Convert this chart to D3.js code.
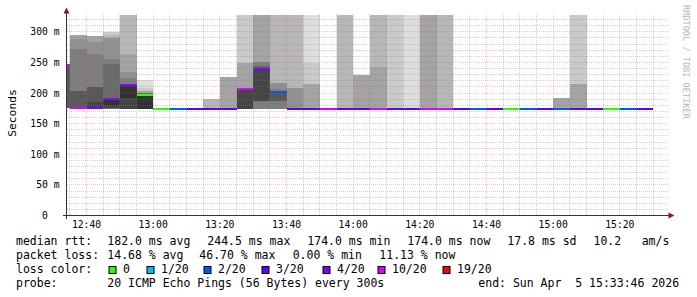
<!DOCTYPE html>
<html>
<head>
<meta charset="utf-8">
<script src="https://cdn.jsdelivr.net/npm/d3@7"></script>
<style>
  body { margin: 0; background: #fff; }
  svg { display: block; }
  text { font-family: "DejaVu Sans Mono", monospace; white-space: pre; }
</style>
</head>
<body>
<svg id="chart" width="697" height="297"></svg>
<script>
// 5 minute bins (start time), median rtt in ms, lost pings out of 20
const binTimes = ["12:30","12:35","12:40","12:45","12:50","12:55","13:00","13:05","13:10","13:15",
  "13:20","13:25","13:30","13:35","13:40","13:45","13:50","13:55","14:00","14:05",
  "14:10","14:15","14:20","14:25","14:30","14:35","14:40","14:45","14:50","14:55",
  "15:00","15:05","15:10","15:15","15:20","15:25"];
const medianRtt = [244.5,176,176,190,213,197,174,174,174,174,174,207,239,202,
  174,174,174,174,174,174,174,174,174,174,174,174,174,174,174,174,174,174,174,174,174,174];
const lossPings = [10,10,4,4,4,0,0,2,3,3,3,10,4,2,3,3,10,3,3,10,3,3,10,10,3,2,3,0,2,3,2,3,3,0,2,3];

// the 20 sorted pings of each bin, written as [ms, count] runs (null = no value)
const pingRuns = [
  [[176,8],[243,4],[247,1],[null,7]],
  [[174,6],[176,6],[204,2],[272,1],[288,1],[295,1],[null,3]],
  [[174,5],[175,1],[176,5],[185,1],[210,2],[263,1],[283,1],[294,1],[null,3]],
  [[174,7],[175,1],[176,1],[180,1],[190,3],[248,1],[256,1],[290,2],[295,1],[299,1],[null,1]],
  [[174,9],[192,1],[213,3],[215,1],[225,1],[235,1],[264,1],[400,1],[null,2]],
  [[174,10],[197,3],[200,3],[204,2],[208,1],[222,1]],
  [[174,20]],
  [[174,20]],
  [[174,20]],
  [[174,17],[191,1],[null,2]],
  [[174,16],[227,1],[null,3]],
  [[174,9],[207,7],[249,2],[400,1],[null,1]],
  [[174,6],[187,3],[239,3],[242,1],[245,1],[251,2],[400,1],[null,3]],
  [[174,6],[187,2],[202,6],[207,1],[217,2],[400,1],[null,2]],
  [[174,15],[208,2],[400,1],[null,2]],
  [[174,16],[215,2],[249,1],[400,1]],
  [[174,20]],
  [[174,17],[400,1],[null,2]],
  [[174,16],[230,1],[null,3]],
  [[174,16],[243,1],[400,1],[null,2]],
  [[174,18],[400,1],[null,1]],
  [[174,19],[400,1]],
  [[174,16],[400,1],[null,3]],
  [[174,17],[400,1],[null,2]],
  [[174,20]],
  [[174,20]],
  [[174,20]],
  [[174,20]],
  [[174,20]],
  [[174,20]],
  [[174,16],[192,1],[null,3]],
  [[174,16],[215,2],[400,1],[null,1]],
  [[174,20]],
  [[174,20]],
  [[174,20]],
  [[174,20]]
];

const lossSteps = [0, 1, 2, 3, 4, 10, 19];
const lossColors = ["#26ff00","#00b8ff","#0059ff","#5e00ff","#7e00ff","#dd00ff","#ff0000"];
const lossLabels = ["0","1/20","2/20","3/20","4/20","10/20","19/20"];

const yTicks = [0, 50, 100, 150, 200, 250, 300];
const yTickLabels = ["0  ", "50 m", "100 m", "150 m", "200 m", "250 m", "300 m"];
const xTicks = ["12:40","13:00","13:20","13:40","14:00","14:20","14:40","15:00","15:20"];

const rttStats = ["182.0 ms avg", "244.5 ms max", "174.0 ms min", "174.0 ms now", "17.8 ms sd", "10.2", "am/s"];
const lossStats = ["14.68 % avg", "46.70 % max", "0.00 % min", "11.13 % now"];
const probeText = "20 ICMP Echo Pings (56 Bytes) every 300s";
const endText = "end: Sun Apr  5 15:33:46 2026";

const day = "2026-04-05 ";
const parseT = d3.timeParse("%Y-%m-%d %H:%M");
const T = s => parseT(day + s);

const svg = d3.select("#chart");
const x = d3.scaleTime().domain([T("12:34"), T("15:34")]).range([66.5, 666.5]);
const y = d3.scaleLinear().domain([0, 327.5]).range([215.5, 15]);

svg.append("defs").append("clipPath").attr("id", "plot")
  .append("rect").attr("x", 67).attr("y", 15).attr("width", 602).attr("height", 201);

const bins = binTimes.map((t, i) => {
  const start = T(t);
  return {
    start: start,
    end: d3.timeMinute.offset(start, 5),
    median: medianRtt[i],
    loss: lossPings[i],
    pings: pingRuns[i].flatMap(([v, n]) => Array(n).fill(v))
  };
});

// smoke: pair ping k with ping 21-k, outer pairs light, inner pairs dark
const shade = k => { const c = Math.floor(190 / 10 * (10 - k)) + 50; return d3.rgb(c, c, c).formatHex(); };
const smoke = [];
bins.forEach(b => {
  for (let k = 1; k <= 10; k++) {
    const lo = b.pings[k - 1], hi = b.pings[20 - k];
    if (lo == null || hi == null || hi <= lo) continue;
    smoke.push({ b: b, lo: lo, hi: hi, k: k });
  }
});

const g = svg.append("g").attr("clip-path", "url(#plot)");
g.selectAll("rect.smoke").data(smoke).enter().append("rect")
  .attr("class", "smoke")
  .attr("x", d => Math.round(x(d.b.start)))
  .attr("width", d => Math.round(x(d.b.end)) - Math.round(x(d.b.start)))
  .attr("y", d => Math.round(y(d.hi)))
  .attr("height", d => Math.round(y(d.lo)) - Math.round(y(d.hi)))
  .attr("fill", d => shade(d.k))
  .attr("shape-rendering", "crispEdges");

function lossColor(l) {
  let idx = 0;
  lossSteps.forEach((s, i) => { if (l >= s) idx = i; });
  return lossColors[idx];
}

g.selectAll("rect.median").data(bins).enter().append("rect")
  .attr("class", "median")
  .attr("x", d => Math.round(x(d.start)))
  .attr("width", d => Math.round(x(d.end)) - Math.round(x(d.start)))
  .attr("y", d => Math.round(y(d.median)) - 1)
  .attr("height", 2)
  .attr("fill", d => lossColor(d.loss))
  .attr("shape-rendering", "crispEdges");

// grid
const minorCol = "rgba(120,120,120,0.35)";
const majorCol = "rgba(225,70,70,0.32)";
const grid = svg.append("g").attr("shape-rendering", "crispEdges");
const hLines = d3.range(10, 330, 10);
grid.selectAll("line.h").data(hLines).enter().append("line")
  .attr("x1", 67).attr("x2", 669)
  .attr("y1", d => Math.floor(y(d)) + 0.5).attr("y2", d => Math.floor(y(d)) + 0.5)
  .attr("stroke", d => d % 50 === 0 ? majorCol : minorCol)
  .attr("stroke-dasharray", "1,1");

const vLines = d3.timeMinute.every(5).range(T("12:35"), T("15:34"));
grid.selectAll("line.v").data(vLines).enter().append("line")
  .attr("y1", 14).attr("y2", 215)
  .attr("x1", d => Math.floor(x(d)) + 0.5).attr("x2", d => Math.floor(x(d)) + 0.5)
  .attr("stroke", d => d.getMinutes() % 20 === 0 ? majorCol : minorCol)
  .attr("stroke-dasharray", "1,1");

// axes
svg.append("line").attr("x1", 63).attr("x2", 670).attr("y1", 215.5).attr("y2", 215.5)
  .attr("stroke", "#333");
svg.append("line").attr("x1", 66.5).attr("x2", 66.5).attr("y1", 219).attr("y2", 11)
  .attr("stroke", "#333");
svg.append("path").attr("d", "M63.5,13.5L69.5,13.5L66.5,7.5Z").attr("fill", "#8b1a1a");
svg.append("path").attr("d", "M668.5,212.5L668.5,218.5L674.5,215.5Z").attr("fill", "#8b1a1a");

// tick labels
svg.selectAll("text.yl").data(yTicks).enter().append("text")
  .attr("xml:space", "preserve")
  .attr("x", 59.5).attr("y", d => y(d) + 3.6)
  .attr("text-anchor", "end").attr("font-size", "9.7px").attr("fill", "#000")
  .text((d, i) => yTickLabels[i]);

svg.selectAll("text.xl").data(xTicks).enter().append("text")
  .attr("x", d => x(T(d))).attr("y", 228)
  .attr("text-anchor", "middle").attr("font-size", "9.7px").attr("fill", "#000")
  .text(d => d);

svg.append("text").attr("transform", "translate(15.5,113) rotate(-90)")
  .attr("text-anchor", "middle").attr("font-size", "11.3px").text("Seconds");

svg.append("text").attr("transform", "translate(683,5) rotate(90)")
  .attr("font-size", "8.6px").attr("fill", "#b8b8b8").text("RRDTOOL / TOBI OETIKER");

// legend
const lf = "11.5px";
const leg = svg.append("g").attr("font-size", lf).attr("fill", "#000");
const rttX = [107.3, 207.3, 307.3, 407.3, 507.3, 593.5, 641.7];
const lossX = [107.3, 199.3, 292.7, 379.3];
leg.append("text").attr("x", 16).attr("y", 245).text("median rtt:");
rttStats.forEach((s, i) => leg.append("text").attr("x", rttX[i]).attr("y", 245).text(s));
leg.append("text").attr("x", 16).attr("y", 259).text("packet loss:");
lossStats.forEach((s, i) => leg.append("text").attr("x", lossX[i]).attr("y", 259).text(s));
leg.append("text").attr("x", 16).attr("y", 273).text("loss color:");
const boxX = [108.5, 146.5, 203.5, 261.5, 322.5, 377.5, 442.5];
lossLabels.forEach((s, i) => {
  leg.append("rect").attr("x", boxX[i] + 0.5).attr("y", 266.5).attr("width", 7).attr("height", 7)
    .attr("fill", lossColors[i]).attr("stroke", "#000").attr("stroke-width", 1);
  leg.append("text").attr("x", boxX[i] + 14.5).attr("y", 273).text(s);
});
leg.append("text").attr("x", 16).attr("y", 287).text("probe:");
leg.append("text").attr("x", 107.3).attr("y", 287).text(probeText);
leg.append("text").attr("x", 478.3).attr("y", 287).attr("xml:space", "preserve").text(endText);
</script>
</body>
</html>
